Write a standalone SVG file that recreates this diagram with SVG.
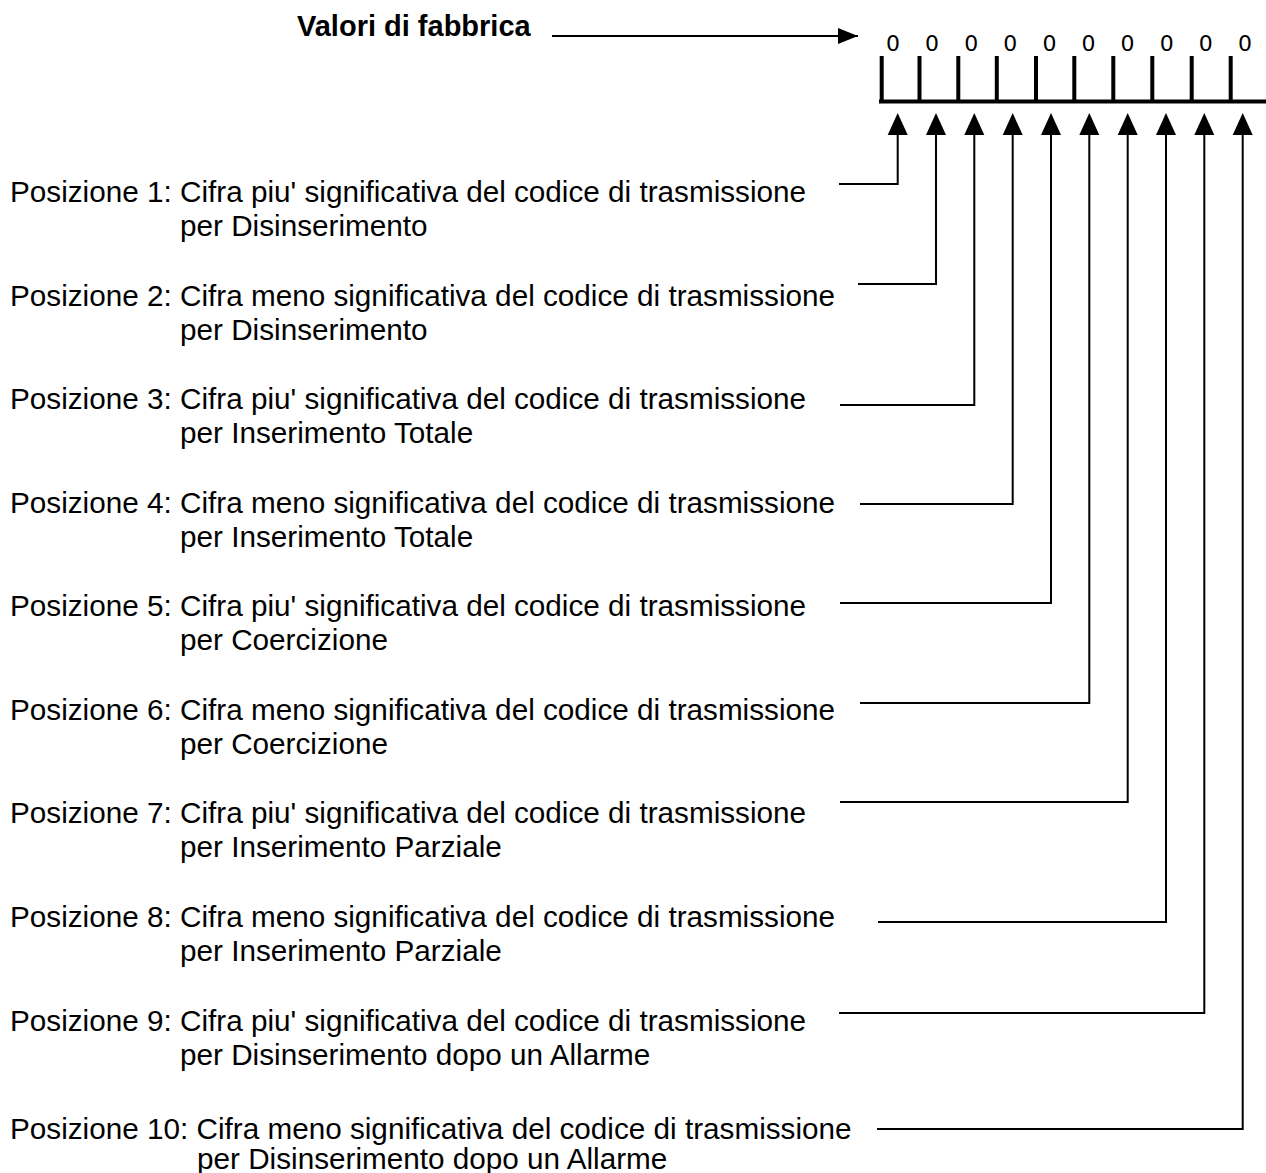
<svg xmlns="http://www.w3.org/2000/svg" width="1266" height="1173" viewBox="0 0 1266 1173">
<defs>
<style>
.t{font-family:"Liberation Sans",Arial,sans-serif;font-size:29.7px;fill:#000}
.title{font-family:"Liberation Sans",Arial,sans-serif;font-size:29px;font-weight:bold;fill:#000}
.d{font-family:"DejaVu Sans",sans-serif;font-size:22px;fill:#000;text-anchor:middle}
.bar{stroke:#000;stroke-width:4;fill:none}
.c{stroke:#000;stroke-width:2;fill:none}
.ah{fill:#000}
</style>
<marker id="arr" markerWidth="20" markerHeight="16" refX="20" refY="8" orient="auto" markerUnits="userSpaceOnUse" viewBox="0 0 20 16"><path d="M0,0 L20,8 L0,16 z" fill="#000"/></marker>
</defs>
<rect width="1266" height="1173" fill="#fff"/>
<g id="title"><text class="title" x="297" y="36">Valori di fabbrica</text></g>
<g id="register">
<path class="bar" d="M879,101.5 H1266 M881.7,56 V101.5 M919.5,56 V101.5 M958.3,56 V101.5 M996.8,56 V101.5 M1036,56 V101.5 M1074.3,56 V101.5 M1113.3,56 V101.5 M1152.3,56 V101.5 M1191.7,56 V101.5 M1230.7,56 V101.5"/>
<text class="d" x="893" y="51">0</text>
<text class="d" x="932.1" y="51">0</text>
<text class="d" x="971.2" y="51">0</text>
<text class="d" x="1010.3" y="51">0</text>
<text class="d" x="1049.4" y="51">0</text>
<text class="d" x="1088.5" y="51">0</text>
<text class="d" x="1127.6" y="51">0</text>
<text class="d" x="1166.7" y="51">0</text>
<text class="d" x="1205.8" y="51">0</text>
<text class="d" x="1244.9" y="51">0</text>
</g>
<g id="p1"><text class="t" x="10" y="202">Posizione 1: Cifra piu' significativa del codice di trasmissione<tspan x="180" y="236">per Disinserimento</tspan></text></g>
<g id="p2"><text class="t" x="10" y="306">Posizione 2: Cifra meno significativa del codice di trasmissione<tspan x="180" y="340">per Disinserimento</tspan></text></g>
<g id="p3"><text class="t" x="10" y="409">Posizione 3: Cifra piu' significativa del codice di trasmissione<tspan x="180" y="443">per Inserimento Totale</tspan></text></g>
<g id="p4"><text class="t" x="10" y="513">Posizione 4: Cifra meno significativa del codice di trasmissione<tspan x="180" y="547">per Inserimento Totale</tspan></text></g>
<g id="p5"><text class="t" x="10" y="616">Posizione 5: Cifra piu' significativa del codice di trasmissione<tspan x="180" y="650">per Coercizione</tspan></text></g>
<g id="p6"><text class="t" x="10" y="720">Posizione 6: Cifra meno significativa del codice di trasmissione<tspan x="180" y="754">per Coercizione</tspan></text></g>
<g id="p7"><text class="t" x="10" y="823">Posizione 7: Cifra piu' significativa del codice di trasmissione<tspan x="180" y="857">per Inserimento Parziale</tspan></text></g>
<g id="p8"><text class="t" x="10" y="927">Posizione 8: Cifra meno significativa del codice di trasmissione<tspan x="180" y="961">per Inserimento Parziale</tspan></text></g>
<g id="p9"><text class="t" x="10" y="1031">Posizione 9: Cifra piu' significativa del codice di trasmissione<tspan x="180" y="1065">per Disinserimento dopo un Allarme</tspan></text></g>
<g id="p10"><text class="t" x="10" y="1139">Posizione 10: Cifra meno significativa del codice di trasmissione<tspan x="197" y="1169">per Disinserimento dopo un Allarme</tspan></text></g>
<g id="connectors">
<path class="c" d="M552,36 H858" marker-end="url(#arr)"/>
<g class="ah">
<path d="M897.7,113 L907.7,135 L887.7,135 z"/>
<path d="M936,113 L946,135 L926,135 z"/>
<path d="M974.3,113 L984.3,135 L964.3,135 z"/>
<path d="M1012.7,113 L1022.7,135 L1002.7,135 z"/>
<path d="M1051,113 L1061,135 L1041,135 z"/>
<path d="M1089.3,113 L1099.3,135 L1079.3,135 z"/>
<path d="M1127.7,113 L1137.7,135 L1117.7,135 z"/>
<path d="M1166,113 L1176,135 L1156,135 z"/>
<path d="M1204.3,113 L1214.3,135 L1194.3,135 z"/>
<path d="M1242.7,113 L1252.7,135 L1232.7,135 z"/>
</g>
<path class="c" d="M897.7,134 V184 H839"/>
<path class="c" d="M936,134 V284 H858"/>
<path class="c" d="M974.3,134 V405 H840"/>
<path class="c" d="M1012.7,134 V504 H860"/>
<path class="c" d="M1051,134 V603 H840"/>
<path class="c" d="M1089.3,134 V703 H860"/>
<path class="c" d="M1127.7,134 V802 H840"/>
<path class="c" d="M1166,134 V922 H878"/>
<path class="c" d="M1204.3,134 V1013 H839"/>
<path class="c" d="M1242.7,134 V1129 H877"/>
</g>
</svg>
